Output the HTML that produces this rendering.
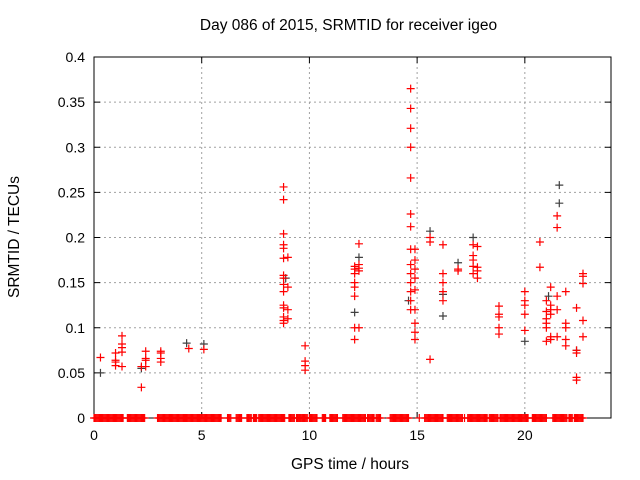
<!DOCTYPE html>
<html><head><meta charset="utf-8"><style>
body{margin:0;background:#fff;}
svg{display:block;font-family:"Liberation Sans",sans-serif;}
.lbl{position:absolute;text-align:center;font:15.5px 'Liberation Sans',sans-serif;white-space:nowrap;}
</style></head><body>
<svg id="chart" width="640" height="480"></svg>
<script>
const xTicks=[0,5,10,15,20];
const yTicks=[0,0.05,0.1,0.15,0.2,0.25,0.3,0.35,0.4];
const yTickLabels=["0","0.05","0.1","0.15","0.2","0.25","0.3","0.35","0.4"];
const redHours=[0.3,1.0,1.0,1.0,1.0,1.3,1.3,1.3,1.3,1.3,2.2,2.2,2.4,2.4,2.4,2.4,3.1,3.1,3.1,3.1,4.4,5.1,
8.8,8.8,8.8,8.8,8.8,8.8,8.8,8.8,8.8,8.8,8.8,8.8,8.8,8.8,8.8,9.0,9.0,9.0,9.0,9.8,9.8,9.8,9.8,
12.1,12.1,12.1,12.1,12.1,12.1,12.1,12.1,12.3,12.3,12.3,12.3,12.3,
14.7,14.7,14.7,14.7,14.7,14.7,14.7,14.7,14.7,14.7,14.7,14.7,14.7,14.7,
14.9,14.9,14.9,14.9,14.9,14.9,14.9,14.9,14.9,15.6,15.6,15.6,16.2,16.2,16.2,16.2,16.2,16.9,16.9,
17.6,17.6,17.6,17.6,17.6,17.8,17.8,17.8,17.8,18.8,18.8,18.8,18.8,18.8,20.0,20.0,20.0,20.0,20.0,20.7,20.7,
21.0,21.0,21.0,21.0,21.0,21.0,21.2,21.2,21.2,21.2,21.2,21.2,21.5,21.5,21.5,21.5,21.5,21.9,21.9,21.9,21.9,21.9,
22.4,22.4,22.4,22.4,22.4,22.7,22.7,22.7,22.7,22.7];
const redValues=[0.067,0.072,0.064,0.062,0.058,0.091,0.082,0.078,0.073,0.057,0.034,0.057,0.074,0.066,0.064,0.057,0.074,0.072,0.066,0.062,0.077,0.076,
0.256,0.242,0.204,0.192,0.188,0.177,0.158,0.155,0.148,0.14,0.125,0.122,0.112,0.108,0.105,0.178,0.145,0.12,0.11,0.08,0.063,0.058,0.053,
0.168,0.165,0.16,0.15,0.145,0.135,0.1,0.087,0.193,0.17,0.166,0.163,0.1,
0.365,0.343,0.321,0.3,0.266,0.226,0.212,0.187,0.17,0.16,0.15,0.14,0.13,0.12,
0.187,0.175,0.165,0.155,0.142,0.12,0.105,0.095,0.087,0.2,0.195,0.065,0.192,0.16,0.15,0.14,0.13,0.165,0.163,
0.192,0.18,0.175,0.168,0.16,0.19,0.167,0.163,0.155,0.124,0.115,0.112,0.1,0.093,0.14,0.13,0.125,0.115,0.097,0.195,0.167,
0.13,0.118,0.11,0.105,0.1,0.085,0.145,0.125,0.12,0.115,0.09,0.087,0.224,0.211,0.135,0.12,0.09,0.14,0.105,0.1,0.087,0.08,
0.122,0.075,0.072,0.045,0.042,0.16,0.157,0.149,0.108,0.09];
const blackHours=[0.3,2.2,4.3,5.1,8.9,12.1,12.3,14.6,15.6,16.2,16.2,16.9,17.6,20.0,21.1,21.6,21.6,22.4];
const blackValues=[0.05,0.055,0.083,0.082,0.155,0.117,0.178,0.13,0.207,0.113,0.137,0.172,0.2,0.085,0.135,0.258,0.238,0.075];
const zeroStarts=[0,1.55,2.95,3.2,3.65,4.3,5.4,6.2,6.6,7.1,7.4,7.65,8.35,9.05,9.4,9.55,10,10.6,10.95,11.55,11.95,12.7,13.1,13.75,15.1,15.35,16.4,17.2,17.35,17.85,18.35,18.85,19.25,19.95,20.35,21.3,22.05,22.3];
const zeroEnds=[1.35,2.35,3.15,3.6,4.3,5.35,5.9,6.35,6.85,7.3,7.55,8.3,8.85,9.3,9.55,9.9,10.35,10.75,11.3,11.9,12.6,13.0,13.3,14.6,15.1,16.2,17.1,17.2,17.8,18.25,18.75,19.2,19.9,20.15,21.0,21.95,22.2,22.7];

const NS="http://www.w3.org/2000/svg";
const svg=document.getElementById('chart');
const L=94,R=611,T=57,B=418,XMAX=24,YMAX=0.4;
const xs=v=>L+(R-L)*v/XMAX, ys=v=>B-(B-T)*v/YMAX;
function mk(tag,attrs,parent){const e=document.createElementNS(NS,tag);for(const k in attrs)e.setAttribute(k,attrs[k]);(parent||svg).appendChild(e);return e;}
const grid=mk('g',{});


xTicks.forEach(t=>{if(t>0)mk('line',{x1:xs(t),x2:xs(t),y1:T,y2:B,stroke:'#a0a0a0','stroke-dasharray':'2,3'},grid);});
yTicks.forEach(t=>{if(t>0&&t<YMAX)mk('line',{x1:L,x2:R,y1:ys(t),y2:ys(t),stroke:'#a0a0a0','stroke-dasharray':'2,3'},grid);});
const axes=mk('g',{});


mk('rect',{x:L,y:T,width:R-L,height:B-T,fill:'none',stroke:'#000'},axes);
xTicks.forEach(t=>{const x=xs(t);mk('line',{x1:x,x2:x,y1:B,y2:B-6,stroke:'#000'},axes);mk('line',{x1:x,x2:x,y1:T,y2:T+6,stroke:'#000'},axes);
 const tx=mk('text',{x:x,y:B+22,'text-anchor':'middle','font-size':14},axes);tx.textContent=t;
 
 });
yTicks.forEach((t,i)=>{const y=ys(t);mk('line',{x1:L,x2:L+6,y1:y,y2:y,stroke:'#000'},axes);mk('line',{x1:R,x2:R-6,y1:y,y2:y,stroke:'#000'},axes);
 const tx=mk('text',{x:L-9,y:y+5,'text-anchor':'end','font-size':14},axes);tx.textContent=yTickLabels[i];
 
 });
function plus(g,x,y,c){mk('path',{d:`M${x-4},${y}h8M${x},${y-4}v8`,stroke:c,'stroke-width':1.2,fill:'none'},g);}
const bg=mk('g',{});


blackHours.forEach((h,i)=>plus(bg,xs(h),ys(blackValues[i]),'#404040'));
const zg=mk('g',{});


zeroStarts.forEach((s,i)=>{for(let h=s;h<=zeroEnds[i]+1e-9;h+=0.05)plus(zg,xs(h),ys(0),'#ff0000');});
const rg=mk('g',{});


redHours.forEach((h,i)=>plus(rg,xs(h),ys(redValues[i]),'#ff0000'));
</script>
<div class="lbl" style="left:0;top:17px;width:697px;">Day 086 of 2015, SRMTID for receiver igeo</div>
<div class="lbl" style="left:0;top:456px;width:700px;">GPS time / hours</div>
<div class="lbl" style="left:-60px;top:228px;width:150px;transform:rotate(-90deg);">SRMTID / TECUs</div>
</body></html>
